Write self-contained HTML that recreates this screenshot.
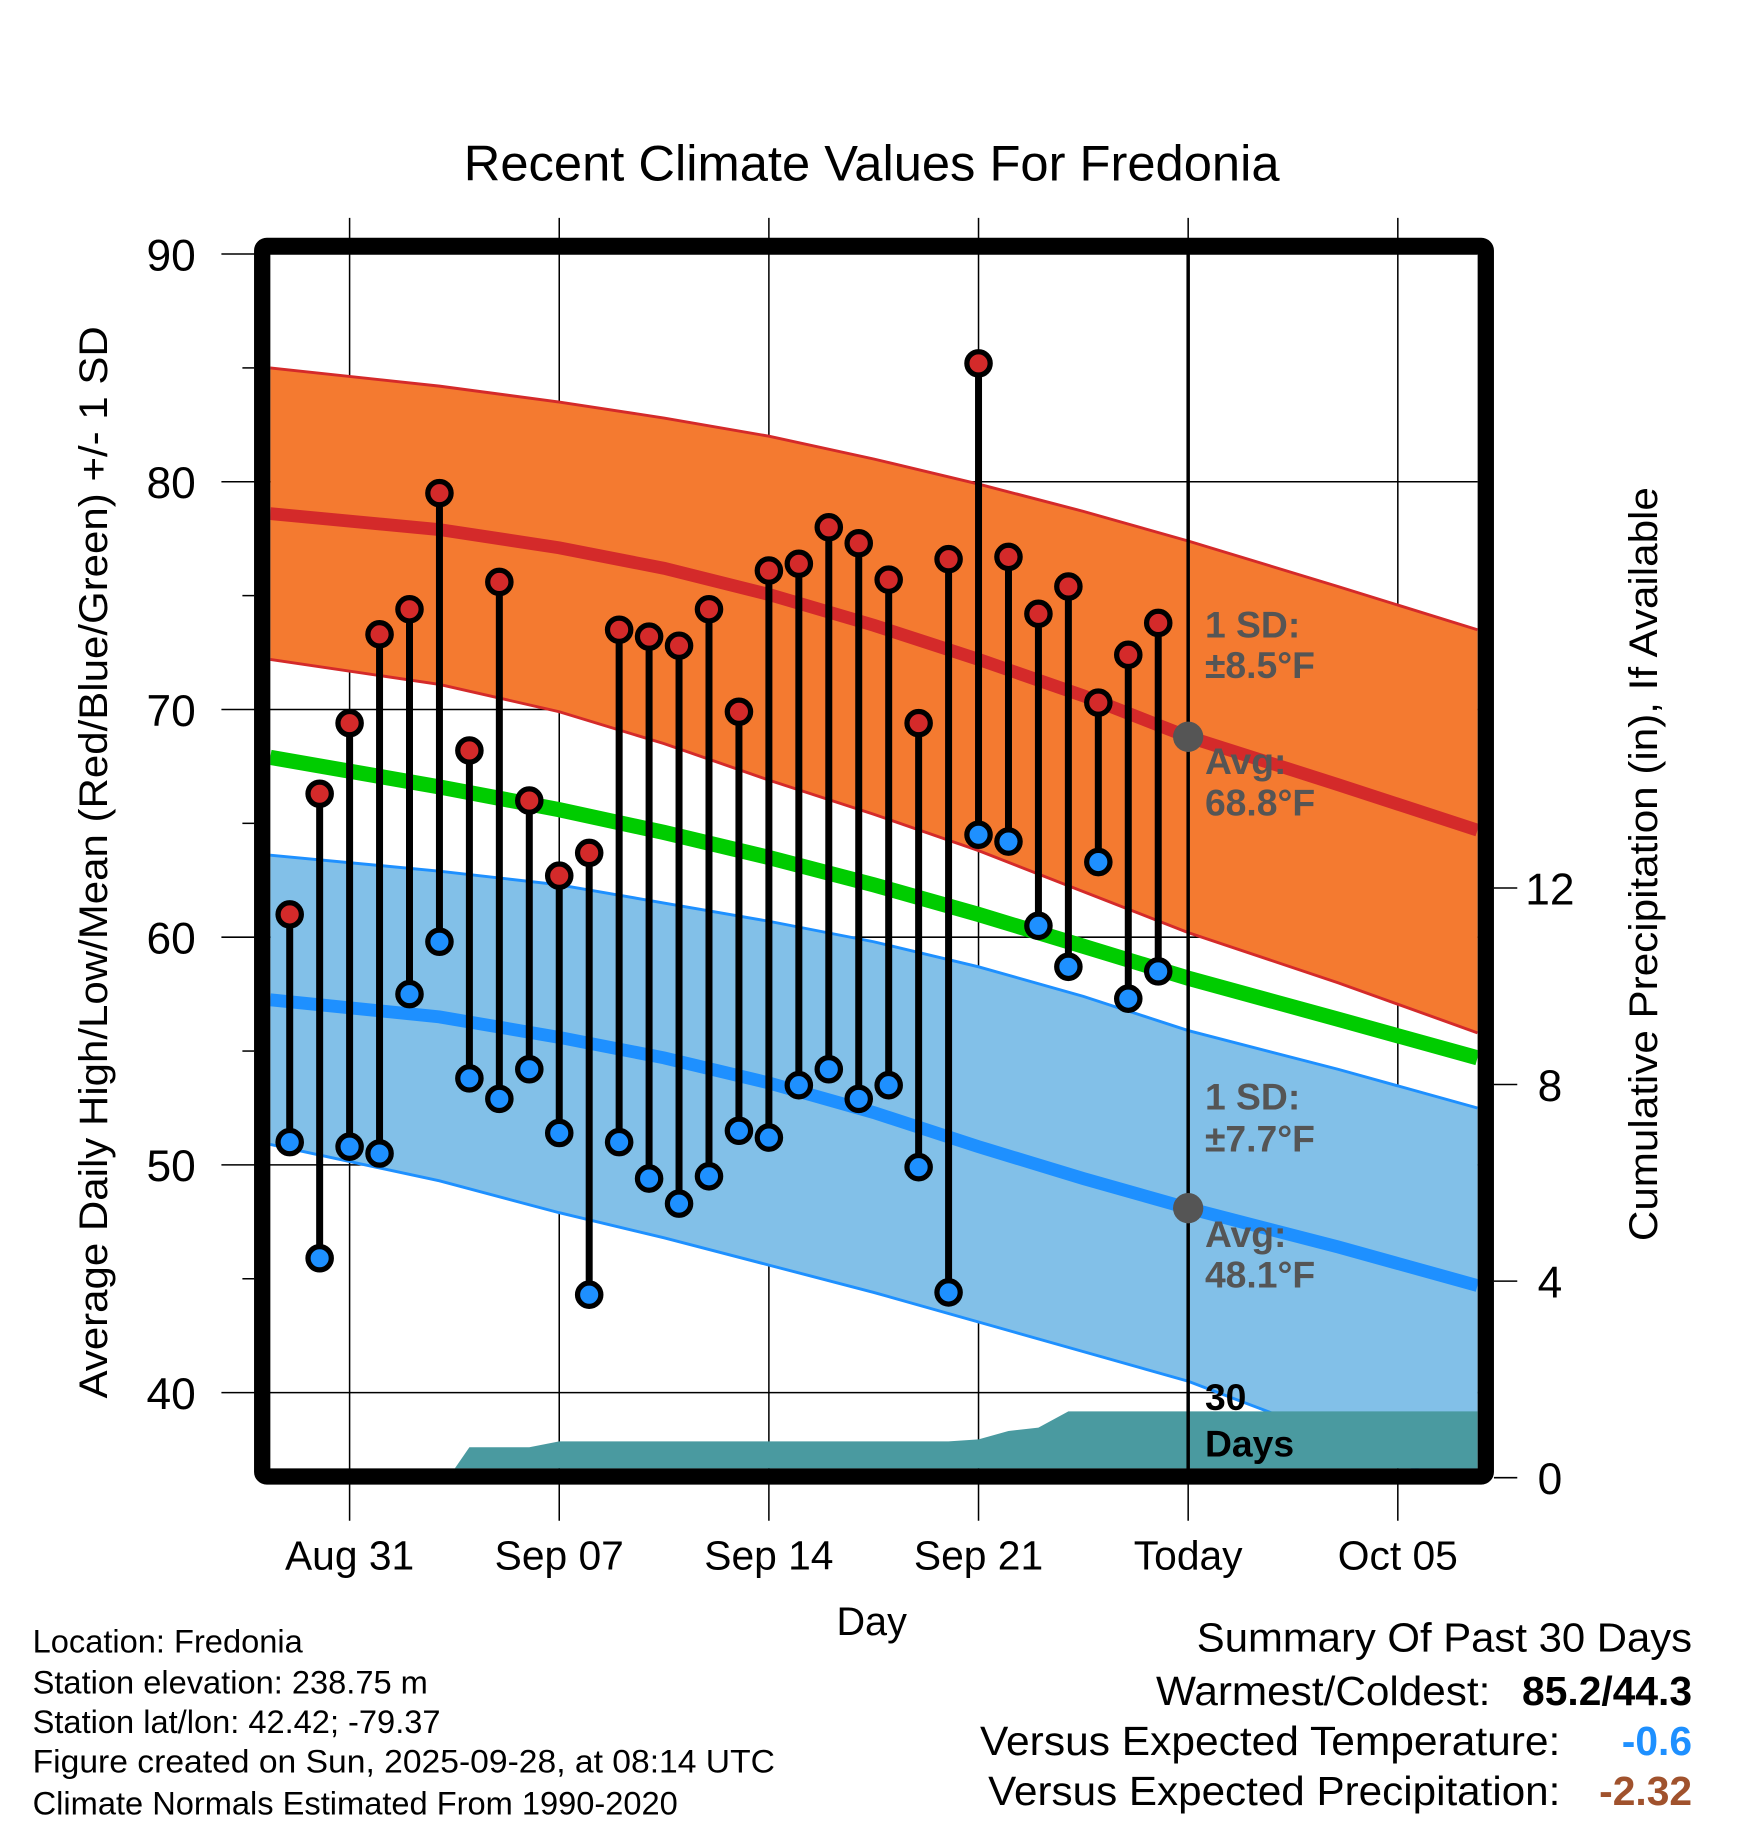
<!DOCTYPE html>
<html><head><meta charset="utf-8"><style>
html,body{margin:0;padding:0;background:#fff;}
svg{display:block;font-family:"Liberation Sans",sans-serif;}
</style></head><body>
<svg id="chart" width="1748" height="1828" viewBox="0 0 1500 1568.6" preserveAspectRatio="none" xmlns="http://www.w3.org/2000/svg">
<defs><clipPath id="plotclip"><rect x="232" y="218" width="1036" height="1042"/></clipPath></defs>
<text x="398" y="155" font-size="43" textLength="700" lengthAdjust="spacingAndGlyphs">Recent Climate Values For Fredonia</text>
<g id="grid"></g>
<g id="bands" clip-path="url(#plotclip)"></g>
<g id="marks"></g>
<g id="axes"></g>
<text transform="translate(92,1200) rotate(-90)" font-size="34" textLength="920" lengthAdjust="spacingAndGlyphs">Average Daily High/Low/Mean (Red/Blue/Green) +/- 1 SD</text>
<text transform="translate(1422,1065) rotate(-90)" font-size="34" textLength="647" lengthAdjust="spacingAndGlyphs">Cumulative Precipitation (in), If Available</text>
<text x="748" y="1403" font-size="34" text-anchor="middle">Day</text>
<g font-size="28">
<text x="28" y="1418">Location: Fredonia</text>
<text x="28" y="1453">Station elevation: 238.75 m</text>
<text x="28" y="1487">Station lat/lon: 42.42; -79.37</text>
<text x="28" y="1521" textLength="637" lengthAdjust="spacingAndGlyphs">Figure created on Sun, 2025-09-28, at 08:14 UTC</text>
<text x="28" y="1557">Climate Normals Estimated From 1990-2020</text>
</g>
<g font-size="35">
<text x="1027" y="1417" textLength="425" lengthAdjust="spacingAndGlyphs">Summary Of Past 30 Days</text>
<text x="992" y="1463" textLength="287" lengthAdjust="spacingAndGlyphs">Warmest/Coldest:</text>
<text x="1452" y="1463" font-weight="bold" text-anchor="end">85.2/44.3</text>
<text x="841" y="1506" textLength="498" lengthAdjust="spacingAndGlyphs">Versus Expected Temperature:</text>
<text x="1452" y="1506" font-weight="bold" fill="#1e90ff" text-anchor="end">-0.6</text>
<text x="848" y="1549" textLength="491" lengthAdjust="spacingAndGlyphs">Versus Expected Precipitation:</text>
<text x="1452" y="1549" font-weight="bold" fill="#a0522d" text-anchor="end">-2.32</text>
</g>
</svg>
<script>
// data (day 0 = Aug 31)
const obsDays = [-2,-1,0,1,2,3,4,5,6,7,8,9,10,11,12,13,14,15,16,17,18,19,20,21,22,23,24,25,26,27];
const highs = [61.0,66.3,69.4,73.3,74.4,79.5,68.2,75.6,66.0,62.7,63.7,73.5,73.2,72.8,74.4,69.9,76.1,76.4,78.0,77.3,75.7,69.4,76.6,85.2,76.7,74.2,75.4,70.3,72.4,73.8];
const lows = [51.0,45.9,50.8,50.5,57.5,59.8,53.8,52.9,54.2,51.4,44.3,51.0,49.4,48.3,49.5,51.5,51.2,53.5,54.2,52.9,53.5,49.9,44.4,64.5,64.2,60.5,58.7,63.3,57.3,58.5];
const normDays = [-2.65,3,7,10.5,14,17.5,21,24.5,28,33,37.66];
const highUpper = [85.0,84.2,83.5,82.8,82.0,81.0,79.9,78.7,77.4,75.4,73.5];
const highAvg = [78.6,77.9,77.1,76.2,75.05,73.7,72.2,70.6,68.8,66.7,64.7];
const highLower = [72.2,71.1,69.9,68.5,66.9,65.4,63.8,62.0,60.2,58.0,55.8];
const meanAvg = [67.9,66.6,65.6,64.6,63.5,62.3,61.0,59.6,58.2,56.4,54.7];
const lowUpper = [63.6,62.9,62.3,61.5,60.7,59.8,58.7,57.4,55.9,54.2,52.5];
const lowAvg = [57.25,56.5,55.6,54.7,53.6,52.3,50.8,49.4,48.1,46.4,44.7];
const lowLower = [50.9,49.3,47.9,46.8,45.6,44.4,43.1,41.8,40.5,38.0,35.6];
const precipDays = [3.3,4,6,7,20,21,22,23,24,37.66];
const precipVals = [0,0.62,0.62,0.74,0.74,0.78,0.95,1.02,1.35,1.35];
const xTickDays = [0,7,14,21,28,35];
const xTickLabels = ["Aug 31","Sep 07","Sep 14","Sep 21","Today","Oct 05"];
const yTicks = [40,50,60,70,80,90];
const y2Ticks = [0,4,8,12];
const todayDay = 28;

const NS="http://www.w3.org/2000/svg";
const X = d => 300 + d*25.7;
const Y = v => 218 + (90-v)*19.54;
const Y2 = p => 1268 - p*42.17;
function mk(parent,tag,attrs){const e=document.createElementNS(NS,tag);for(const k in attrs)e.setAttribute(k,attrs[k]);document.getElementById(parent).appendChild(e);return e;}
function linePts(arr){return normDays.map((d,i)=>X(d)+","+Y(arr[i])).join(" ");}
function bandPts(up,lo){return linePts(up)+" "+normDays.slice().reverse().map((d,i)=>X(d)+","+Y(lo[lo.length-1-i])).join(" ");}

xTickDays.forEach((d,i)=>{
  const l=mk('grid','line',{x1:X(d),x2:X(d),y1:187,y2:1305,stroke:'#000','stroke-width':1.3});
  
  
  const t=mk('axes','text',{x:X(d),y:1347,'font-size':35,'text-anchor':'middle'});
  t.textContent=xTickLabels[i];
  
  
});
yTicks.forEach(v=>{
  const l=mk('grid','line',{x1:190,x2:1268,y1:Y(v),y2:Y(v),stroke:'#000','stroke-width':1.3});
  
  
  const t=mk('axes','text',{x:168,y:Y(v)+14,'font-size':38,'text-anchor':'end'});
  t.textContent=v;
  
  
});
[45,55,65,75,85].forEach(v=>{
  const l=mk('grid','line',{x1:208,x2:218,y1:Y(v),y2:Y(v),stroke:'#000','stroke-width':1.3});
  
  
});
y2Ticks.forEach(p=>{
  const l=mk('axes','line',{x1:1282,x2:1302,y1:Y2(p),y2:Y2(p),stroke:'#000','stroke-width':1.3});
  
  
  const t=mk('axes','text',{x:1330,y:Y2(p)+14,'font-size':38,'text-anchor':'middle'});
  t.textContent=p;
  
  
});

let e;
e=mk('bands','polygon',{points:bandPts(lowUpper,lowLower),fill:'#82c0e8'});


e=mk('bands','polygon',{points:bandPts(highUpper,highLower),fill:'#f47a30'});


[[highUpper,'#d42a2a',2.5,'high-upper-line'],[highLower,'#d42a2a',2.5,'high-lower-line'],[lowUpper,'#1e90ff',2.5,'low-upper-line'],[lowLower,'#1e90ff',2.5,'low-lower-line'],
 [highAvg,'#d42a2a',11,'high-avg-line'],[lowAvg,'#1e90ff',11,'low-avg-line'],[meanAvg,'#00cc00',13,'mean-avg-line']].forEach(s=>{
  const p=mk('bands','polyline',{points:linePts(s[0]),fill:'none',stroke:s[1],'stroke-width':s[2]});
  
  
});
const pp=precipDays.map((d,i)=>X(d)+","+Y2(precipVals[i])).join(" ")+" "+X(37.66)+",1268 "+X(precipDays[0])+",1268";
e=mk('bands','polygon',{points:pp,fill:'#4a9aa0'});



e=mk('marks','line',{x1:X(todayDay),x2:X(todayDay),y1:218,y2:1262,stroke:'#000','stroke-width':3});


e=mk('marks','rect',{x:225,y:211,width:1050,height:1056,rx:4,fill:'none',stroke:'#000','stroke-width':14});


[[highAvg],[lowAvg]].forEach((a,i)=>{
  const c=mk('marks','circle',{cx:X(todayDay),cy:Y(a[0][8]),r:13,fill:'#555'});
  
  
});

obsDays.forEach((d,i)=>{
  const s=mk('marks','line',{x1:X(d),x2:X(d),y1:Y(highs[i]),y2:Y(lows[i]),stroke:'#000','stroke-width':6});
  
  
  const h=mk('marks','circle',{cx:X(d),cy:Y(highs[i]),r:10,fill:'#d42a2a',stroke:'#000','stroke-width':4.5});
  
  
  const l=mk('marks','circle',{cx:X(d),cy:Y(lows[i]),r:10,fill:'#1e90ff',stroke:'#000','stroke-width':4.5});
  
  
});

[["1 SD:",547,'#555'],["±8.5°F",582,'#555'],["Avg:",664,'#555'],["68.8°F",700,'#555'],["1 SD:",952,'#555'],["±7.7°F",988,'#555'],["Avg:",1070,'#555'],["48.1°F",1105,'#555'],["30",1210,'#000'],["Days",1250,'#000']].forEach(a=>{
  const t=mk('marks','text',{x:1034,y:a[1],'font-size':32,'font-weight':'bold',fill:a[2]});
  t.textContent=a[0];
  
  
});
</script>
</body></html>
